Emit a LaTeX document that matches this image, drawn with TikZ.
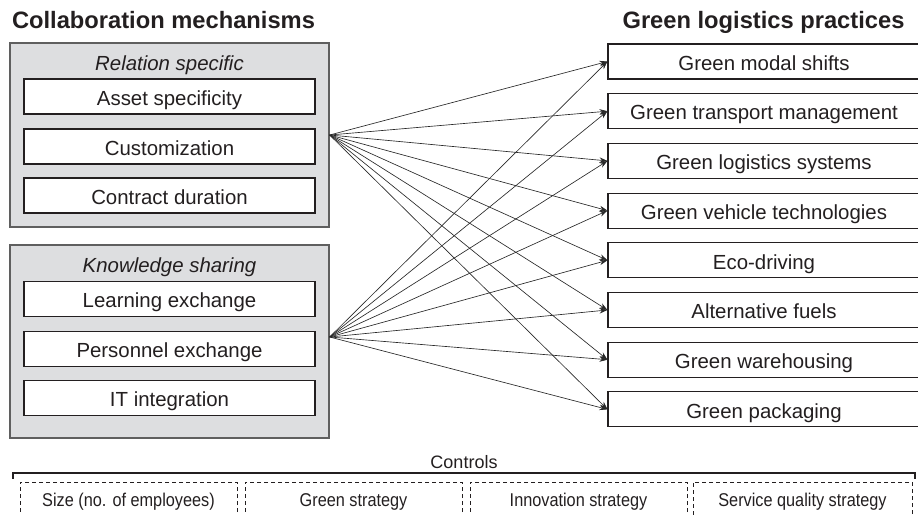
\documentclass[tikz,border=0pt]{standalone}
\usepackage{fontspec}
\setmainfont{Liberation Sans}
\newfontfamily\condfont[FakeStretch=0.88]{Liberation Sans}
\usetikzlibrary{arrows.meta}

\definecolor{inkdark}{RGB}{35,31,32}
\definecolor{groupfill}{RGB}{221,222,224}
\definecolor{groupline}{RGB}{95,95,95}
\definecolor{arrowline}{RGB}{40,40,40}

\tikzset{
  heading/.style={font=\fontsize{23.7}{28}\selectfont\bfseries, text=inkdark, anchor=base, inner sep=0pt},
  groupbox/.style={draw=groupline, fill=groupfill, line width=1.3pt, minimum width=319pt, inner sep=0pt},
  grouptitle/.style={font=\fontsize{20.4}{24}\selectfont\itshape, text=inkdark, anchor=base, inner sep=0pt},
  itembox/.style={draw=inkdark, fill=white, line width=1.1pt, minimum width=291pt, minimum height=35pt,
    inner sep=0pt, text height=17.5pt, text depth=0pt, font=\fontsize{20.4}{24}\selectfont, text=inkdark},
  practicebox/.style={itembox, minimum width=312pt},
  link/.style={draw=arrowline, line width=0.65pt, -{Stealth[length=8pt,width=5.5pt]}},
  ctrlbox/.style={draw=inkdark, line width=0.8pt, dash pattern=on 4pt off 3pt, minimum height=44pt, inner sep=0pt},
  ctrltext/.style={font=\fontsize{18.5}{22}\selectfont\condfont, text=inkdark, anchor=base, inner sep=0pt},
}

\begin{document}
\begin{tikzpicture}[x=1pt, y=-1pt]
\useasboundingbox (0,0) rectangle (918,514);

% column headings
\node[heading] (hleft) at (163.5,28) {Collaboration mechanisms};
\node[heading] (hright) at (763.5,28) {Green logistics practices};

% relation-specific mechanisms
\node[groupbox, minimum height=184pt] (g1) at (169.5,135) {};
\node[grouptitle] (g1t) at (169.5,70) {Relation specific};
\node[itembox] (asset) at (169.5,96.5) {Asset specificity};
\node[itembox] (custom) at (169.5,146.5) {Customization};
\node[itembox] (contract) at (169.5,195.5) {Contract duration};

% knowledge-sharing mechanisms
\node[groupbox, minimum height=193pt] (g2) at (169.5,341.5) {};
\node[grouptitle] (g2t) at (169.5,272) {Knowledge sharing};
\node[itembox] (learn) at (169.5,299) {Learning exchange};
\node[itembox] (person) at (169.5,349) {Personnel exchange};
\node[itembox] (itint) at (169.5,398) {IT integration};

% green logistics practices
\foreach \name/\txt [count=\i from 0] in {
  modal/Green modal shifts,
  transport/Green transport management,
  systems/Green logistics systems,
  vehicle/Green vehicle technologies,
  eco/Eco-driving,
  fuels/Alternative fuels,
  warehouse/Green warehousing,
  packaging/Green packaging}
{
  \node[practicebox] (\name) at (764,61.5+49.7*\i) {\txt};
}

% links from both mechanism groups to every practice
\foreach \name in {modal,transport,systems,vehicle,eco,fuels,warehouse,packaging}
{
  \draw[link] (g1.east) -- (\name.west);
  \draw[link] ([yshift=4.5pt]g2.east) -- (\name.west);
}

% controls
\node[font=\fontsize{18}{22}\selectfont, text=inkdark, anchor=base, inner sep=0pt] (ctrl) at (464,468) {Controls};
\draw[draw=inkdark, line width=1.3pt] (13,478.5) -- (13,473) -- (915,473) -- (915,478.5);

\node[ctrlbox, minimum width=217pt] (c1) at (128.5,504) {};
\node[ctrlbox, minimum width=217pt] (c2) at (353.5,504) {};
\node[ctrlbox, minimum width=217pt] (c3) at (578.5,504) {};
\node[ctrlbox, minimum width=219pt] (c4) at (802.5,504) {};
\node[ctrltext] (c1t) at (c1 |- 0,506) {Size (no. of employees)};
\node[ctrltext] (c2t) at (c2 |- 0,506) {Green strategy};
\node[ctrltext] (c3t) at (c3 |- 0,506) {Innovation strategy};
\node[ctrltext] (c4t) at (c4 |- 0,506) {Service quality strategy};
\end{tikzpicture}
\end{document}
